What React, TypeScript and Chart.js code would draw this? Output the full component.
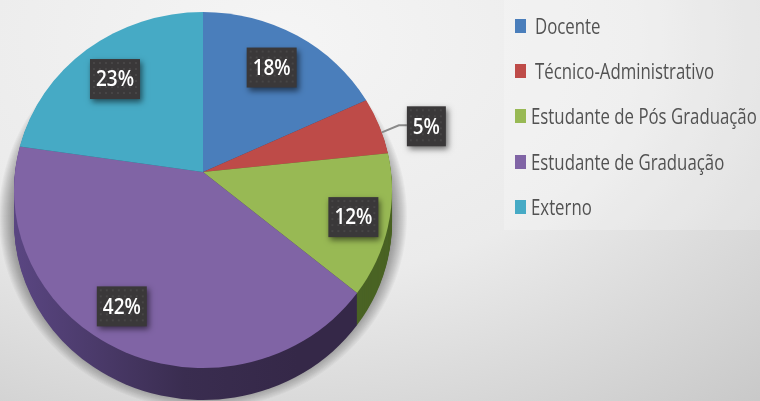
import React, { useEffect, useRef } from "react";
import { Chart, registerables, ArcElement, PieController } from "chart.js";

const categories = ["Docente", "Técnico-Administrativo", "Estudante de Pós Graduação", "Estudante de Graduação", "Externo"];
const shares = [18.4, 5.0, 12.2, 41.6, 22.8];
const topColors = ["#4a7ebb", "#be4b48", "#98b954", "#8064a5", "#46aac5"];
const sideColors = ["#2c4a70", "#702c2a", "#4a6324", "#453360", "#286476"];
// Label placement relative to the apex: distance and angle shift in degrees
const labelDistance = [125, 228, 157, 157, 128];
const labelAngleShift = [0.2, 3.2, 0.5, 8.1, -2.4];
const legendIndent = [20, 20, 16, 16, 16];

const RATIO = 178 / 189; // vertical squash of the tilted pie
const APEX_LIFT = 18;
const DEPTH = 32;

function rim(el: any, a: number) {
  const rx = el.outerRadius, ry = rx * RATIO, o = APEX_LIFT;
  const c = Math.cos(a), s = Math.sin(a);
  const A = (c * c) / (rx * rx) + (s * s) / (ry * ry);
  const B = (-2 * o * s) / (ry * ry);
  const C = (o * o) / (ry * ry) - 1;
  const t = (-B + Math.sqrt(B * B - 4 * A * C)) / (2 * A);
  return Math.atan2((t * s - o) / ry, (t * c) / rx);
}

function slicePath(ctx: CanvasRenderingContext2D, el: any, dy: number) {
  const rx = el.outerRadius, ry = rx * RATIO;
  ctx.beginPath();
  ctx.moveTo(el.x, el.y - APEX_LIFT + dy);
  ctx.ellipse(el.x, el.y + dy, rx, ry, 0, rim(el, el.startAngle), rim(el, el.endAngle));
  ctx.closePath();
}

class SkewArc extends ArcElement {
  static id = "skewArc";
  draw(ctx: CanvasRenderingContext2D) {
    slicePath(ctx, this, 0);
    ctx.fillStyle = (this as any).options.backgroundColor;
    ctx.fill();
  }
}

class Pie3D extends PieController {
  static id = "pie3d";
  static defaults = { dataElementType: "skewArc" };
}

const depthPlugin = {
  id: "depth",
  beforeDatasetsDraw(chart: any) {
    const { ctx } = chart;
    const els = chart.getDatasetMeta(0).data;
    const first = els[0];
    ctx.save();
    ctx.fillStyle = "rgba(0,0,0,0.03)";
    for (let k = 0; k < 16; k++) {
      ctx.beginPath();
      ctx.ellipse(first.x, first.y + DEPTH - 6, first.outerRadius + k, first.outerRadius * RATIO + k, 0, 0, Math.PI * 2);
      ctx.fill();
    }
    ctx.restore();
    els.forEach((el: any, i: number) => {
      let fill: any = sideColors[i];
      if (i === 3) {
        const g = ctx.createLinearGradient(el.x - el.outerRadius, 0, el.x + el.outerRadius * 0.5, 0);
        g.addColorStop(0, "#5a4682");
        g.addColorStop(0.6, "#3a2d50");
        g.addColorStop(1, "#352848");
        fill = g;
      }
      ctx.fillStyle = fill;
      for (let d = DEPTH; d > 0; d--) {
        slicePath(ctx, el, d);
        ctx.fill();
      }
    });
  },
};

const labelPlugin = {
  id: "boxedLabels",
  afterDatasetsDraw(chart: any) {
    const { ctx } = chart;
    chart.getDatasetMeta(0).data.forEach((el: any, i: number) => {
      const mid = (el.startAngle + el.endAngle) / 2 + (labelAngleShift[i] * Math.PI) / 180;
      const x = el.x + labelDistance[i] * Math.cos(mid);
      const y = el.y - APEX_LIFT + labelDistance[i] * Math.sin(mid);
      const w = shares[i] < 10 ? 39 : 50;
      const h = 40;
      if (shares[i] < 10) {
        ctx.strokeStyle = "#8a8a8a";
        ctx.lineWidth = 2;
        ctx.beginPath();
        ctx.moveTo(x - w / 2 - 25, y + 6);
        ctx.lineTo(x - w / 2 - 8, y - 1);
        ctx.lineTo(x - w / 2, y - 1);
        ctx.stroke();
      }
      ctx.save();
      ctx.shadowColor = "rgba(0,0,0,0.55)";
      ctx.shadowBlur = 6;
      ctx.shadowOffsetX = 2;
      ctx.shadowOffsetY = 3;
      ctx.fillStyle = "#3a3839";
      ctx.fillRect(x - w / 2, y - h / 2, w, h);
      ctx.restore();
      // faint dotted weave of the label boxes
      ctx.fillStyle = "rgba(255,255,255,0.07)";
      for (let px = 3; px < w - 1; px += 6) {
        for (let py = 3; py < h - 1; py += 6) {
          ctx.fillRect(x - w / 2 + px, y - h / 2 + py, 2, 2);
        }
      }
      ctx.save();
      ctx.translate(x, y + 1);
      ctx.scale(0.86, 1);
      ctx.fillStyle = "#ffffff";
      ctx.font = '600 22px "Open Sans"';
      ctx.textAlign = "center";
      ctx.textBaseline = "middle";
      ctx.fillText(`${Math.round(shares[i])}%`, 0, 0);
      ctx.restore();
    });
  },
};

Chart.register(...registerables, SkewArc, Pie3D);

export default function App() {
  const ref = useRef<HTMLCanvasElement>(null);
  useEffect(() => {
    document.body.style.margin = "0";
    const chart = new Chart(ref.current!, {
      type: "pie3d" as any,
      data: {
        labels: categories,
        datasets: [{ data: shares, backgroundColor: topColors, borderWidth: 0 }],
      },
      options: {
        animation: false,
        responsive: false,
        layout: { padding: { left: 14, right: 368, top: 1, bottom: 22 } },
        plugins: { legend: { display: false }, tooltip: { enabled: false } },
      },
      plugins: [depthPlugin, labelPlugin],
    } as any);
    return () => chart.destroy();
  }, []);
  return (
    <div
      style={{
        position: "relative",
        width: 760,
        height: 401,
        overflow: "hidden",
        background:
          "radial-gradient(ellipse 720px 480px at 280px 40px, #f5f5f5 0%, #ebebeb 50%, #c9c9c9 100%)",
      }}
    >
      <div style={{ position: "absolute", left: 504, top: 0, width: 256, height: 230, background: "rgba(255,255,255,0.22)" }} />
      <canvas ref={ref} width={760} height={401} style={{ position: "absolute", left: 0, top: 0 }} />
      {categories.map((c, i) => (
        <div key={c}>
          <div
            style={{
              position: "absolute",
              left: 515,
              top: 19 + Math.round(i * 45.2),
              width: 11,
              height: 14,
              background: topColors[i],
            }}
          />
          <div
            style={{
              position: "absolute",
              left: 515 + legendIndent[i],
              top: 12 + Math.round(i * 45.2),
              font: '400 21px/28px "Open Sans"',
              color: "#525252",
              whiteSpace: "nowrap",
              transform: "scaleX(0.8)",
              transformOrigin: "left center",
            }}
          >
            {c}
          </div>
        </div>
      ))}
    </div>
  );
}
